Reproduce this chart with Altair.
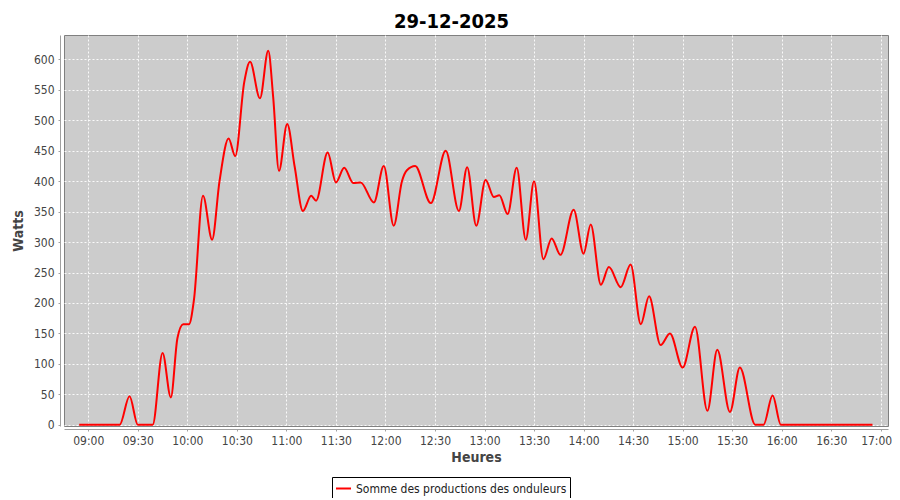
import altair as alt
import pandas as pd

# time of day (HH:MM:SS) and summed inverter output (W)
times = [
    "08:54:30", "09:00:00", "09:05:00", "09:10:00", "09:15:00", "09:19:00",
    "09:25:00", "09:30:00", "09:34:00", "09:39:00", "09:45:00", "09:50:00",
    "09:54:00", "09:57:30", "10:01:00", "10:04:00", "10:09:30", "10:15:00",
    "10:19:30", "10:25:00", "10:29:00", "10:34:30", "10:38:00", "10:44:00",
    "10:49:00", "10:52:00", "10:55:30", "11:00:30", "11:05:00", "11:10:00",
    "11:15:00", "11:18:00", "11:25:00", "11:30:00", "11:35:00", "11:40:30",
    "11:45:00", "11:53:00", "11:59:00", "12:05:00", "12:10:00", "12:13:00",
    "12:18:00", "12:27:30", "12:36:30", "12:44:30", "12:49:30", "12:55:00",
    "13:00:40", "13:05:40", "13:09:00", "13:14:00", "13:19:30", "13:25:00",
    "13:30:00", "13:35:40", "13:40:40", "13:46:00", "13:54:00", "14:00:00",
    "14:04:20", "14:10:30", "14:15:20", "14:22:30", "14:28:30", "14:34:40",
    "14:39:40", "14:46:40", "14:52:20", "15:00:00", "15:07:30", "15:15:00",
    "15:21:00", "15:28:40", "15:34:40", "15:44:00", "15:49:00", "15:54:30",
    "15:59:30", "16:04:00", "16:15:00", "16:30:00", "16:45:00", "16:55:00",
]
watts = [
    0, 0, 0, 0, 0, 0,
    47, 0, 0, 0, 118, 45,
    142, 165, 165, 205, 376, 304,
    400, 470, 441, 563, 596, 536,
    614, 538, 417, 494, 424, 351,
    376, 368, 447, 398, 422, 397,
    398, 365, 425, 327, 400, 418,
    425, 364, 450, 351, 423, 327,
    402, 374, 377, 346, 422, 304,
    400, 272, 306, 279, 353, 281,
    329, 230, 259, 226, 263, 165,
    211, 131, 150, 94, 161, 23,
    123, 21, 94, 0, 0, 48,
    0, 0, 0, 0, 0, 0,
]
series_name = "Somme des productions des onduleurs"
y_ticks = list(range(0, 601, 50))
x_tick_hours = [(h, m) for h in range(9, 18) for m in (0, 30) if not (h == 17 and m == 30)]

df = pd.DataFrame({
    "t": ["2025-12-29T" + t for t in times],
    "w": watts,
    "s": [series_name] * len(times),
})

def dt(h, m, s=0):
    return alt.DateTime(year=2025, month=12, date=29, hours=h, minutes=m, seconds=s)

FONT = "DejaVu Sans Condensed"

chart = alt.Chart(df).mark_line(
    interpolate="monotone", strokeWidth=2, clip=True
).encode(
    x=alt.X(
        "t:T",
        scale=alt.Scale(domain=[dt(8, 45, 18), dt(17, 4, 24)]),
        axis=alt.Axis(
            title="Heures",
            values=[dt(h, m) for h, m in x_tick_hours],
            format="%H:%M",
            labelOverlap=False,
            labelFlush=10,
            labelFlushOffset=11,
            offset=3,
            titlePadding=4,
        ),
    ),
    y=alt.Y(
        "w:Q",
        scale=alt.Scale(domain=[-2, 640], nice=False, zero=False),
        axis=alt.Axis(title="Watts", values=y_ticks, offset=4, titlePadding=8),
    ),
    color=alt.Color(
        "s:N",
        scale=alt.Scale(range=["#FF0000"]),
        legend=alt.Legend(
            title=None,
            orient="none",
            legendX=268,
            legendY=442,
            strokeColor="black",
            fillColor="white",
            padding=3,
            symbolType="stroke",
            symbolSize=225,
            symbolStrokeWidth=2,
            labelFont=FONT,
            labelFontSize=12,
            labelColor="#222",
            labelOffset=4,
            labelLimit=0,
        ),
    ),
).properties(
    width=824,
    height=391,
    title=alt.TitleParams(
        "29-12-2025", font=FONT, fontSize=20, fontWeight="bold",
        color="black", anchor="middle", frame="bounds", offset=3,
    ),
    autosize=alt.AutoSizeParams(type="none"),
    padding={"left": 56, "top": 27, "right": 4, "bottom": 72},
    background="white",
).configure_view(
    fill="#CCCCCC", stroke="#808080", strokeWidth=1,
).configure_axis(
    domainColor="#A0A0A0",
    tickColor="#A0A0A0",
    tickSize=2,
    labelPadding=4,
    labelFont=FONT,
    labelFontSize=12,
    labelColor="#444444",
    titleFont=FONT,
    titleFontSize=14,
    titleFontWeight="bold",
    titleColor="#444444",
    grid=True,
    gridColor="#FFFFFF",
    gridDash=[2, 2],
    gridOpacity=0.9,
    gridWidth=1,
)

chart.save("out.html", embed_options={"renderer": "svg", "actions": False})
